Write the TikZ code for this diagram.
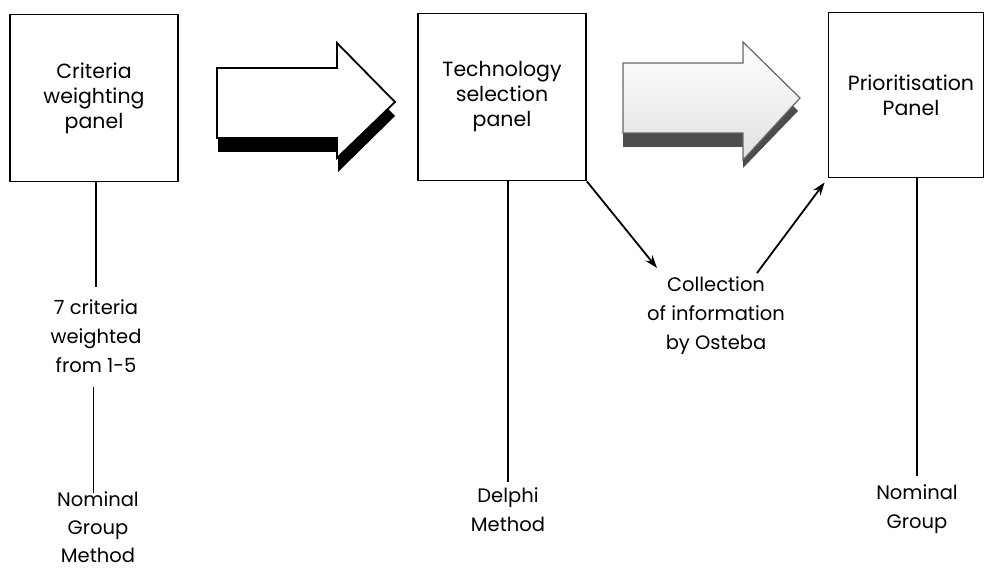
\documentclass[tikz,border=0pt]{standalone}
\usepackage{fontspec}
\setmainfont{Poppins}
\usetikzlibrary{positioning,arrows.meta,calc}

\begin{document}
\begin{tikzpicture}[x=1pt,y=-1pt,font=\fontsize{20.5}{25}\selectfont]
  \tikzstyle{panel}=[draw,line width=1.8pt,align=center,minimum width=168pt,minimum height=167pt,inner sep=0pt]
  \tikzstyle{label}=[align=center,inner sep=0pt,font=\fontsize{19.5}{29}\selectfont]
  \tikzstyle{link}=[line width=1.8pt]
  \tikzstyle{tip}=[-{Stealth[length=13pt,width=9pt]}]
  \useasboundingbox (0,0) rectangle (984,572);
  % the three panels
  \node[panel] (cwp) at (94,98) {Criteria\\weighting\\panel};
  \node[panel] (tsp) at (502,97) {Technology\\selection\\panel};
  \node[panel,minimum width=155pt,minimum height=165pt] (ppn) at (906,95) {\hspace*{10pt}Prioritisation\\\hspace*{10pt}Panel};
  % texts under them
  \node[label] (crit) at (96,336) {7 criteria\\weighted\\from 1-5};
  \node[label,font=\fontsize{19.5}{28}\selectfont] (ngm) at (98,527) {Nominal\\Group\\Method};
  \node[label] (dm) at (508,510) {Delphi\\Method};
  \node[label] (coll) at (716,316) {Collection\\of information\\by Osteba};
  \node[label] (ng) at (917,509) {Nominal\\Group};
  % block arrows between the panels
  \fill[black] (218,82) -- (338,82) -- (338,58) -- (395,116) -- (338,172) -- (338,152) -- (218,152) -- cycle;
  \draw[line width=1.8pt,fill=white,line join=miter] (217,68) -- (337,68) -- (337,43) -- (395,102) -- (337,158) -- (337,138) -- (217,138) -- cycle;
  \fill[black!70] (623,76) -- (743,76) -- (743,55) -- (798,111) -- (743,168) -- (743,147) -- (623,147) -- cycle;
  \draw[line width=1.2pt,draw=black!60,top color=white,bottom color=black!12] (623,63) -- (743,63) -- (743,42) -- (800,98) -- (743,160) -- (743,133) -- (623,133) -- cycle;
  % connectors
  \draw[link] (cwp.south -| crit) -- ([yshift=12pt]crit.north);
  \draw[line width=0.6pt] ([xshift=-3pt,yshift=-14pt]crit.south) -- ([xshift=-5pt,yshift=-2pt]ngm.north);
  \draw[link] (tsp.south -| dm) -- ([yshift=6pt]dm.north);
  \draw[link] (ppn.south -| ng) -- ([yshift=8pt]ng.north);
  \coordinate (cin) at (657,268);
  \coordinate (cout) at (757,273);
  \draw[link,tip] (tsp.south east) -- (cin);
  \draw[link,tip,shorten >=5pt] (cout) -- (ppn.south west);
\end{tikzpicture}
\end{document}
